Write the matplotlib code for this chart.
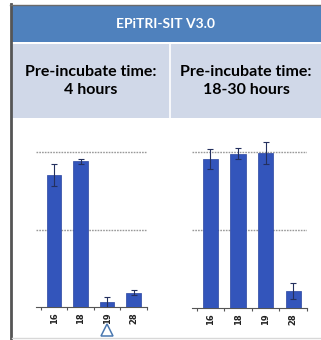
import numpy as np
import matplotlib
matplotlib.use('Agg')
import matplotlib.pyplot as plt
from matplotlib.patches import Rectangle
import matplotlib.transforms as mtransforms

## Data
title = 'EPiTRI-SIT V3.0'
col_titles = ['Pre-incubate time:\n4 hours', 'Pre-incubate time:\n18-30 hours']
labels = ['16', '18', '19', '28']
left_vals = [85, 94, 3, 9.3]
left_err = [7, 1.5, 3.6, 1.8]
right_vals = [95.5, 99, 99.5, 11]
right_err = [6.5, 3.5, 7, 5]
flagged = '19'   # marked with the triangle in the 4 hour panel

W, H = 321, 340
fig = plt.figure(figsize=(W/100, H/100), dpi=100)
plt.rcParams['font.family'] = ['Lato', 'DejaVu Sans']

# background layer in pixel coordinates (y down)
bg = fig.add_axes([0, 0, 1, 1])
bg.set_xlim(0, W)
bg.set_ylim(H, 0)
bg.axis('off')

hdr_blue = '#4f81bd'
light = '#d0d8e8'
bg.add_patch(Rectangle((12, 5), W-12, 37, color=hdr_blue, lw=0))
bg.add_patch(Rectangle((12, 44), W-12, 74, color=light, lw=0))
bg.plot([170, 170], [44, 118], color='white', lw=1.2)
bg.plot([10.5, 10.5], [4, H], color='#555555', lw=2)
bg.plot([10, W], [4.5, 4.5], color='#6a6a6a', lw=1)
bg.plot([12, W], [338, 338], color='#d8d8d8', lw=1)

bg.text(166, 24, title, color='white', fontsize=10, fontweight='bold',
        ha='center', va='center')
bg.text(91, 81, col_titles[0], color='black', fontsize=11.5, fontweight='bold',
        ha='center', va='center', linespacing=1.3)
bg.text(246, 81, col_titles[1], color='black', fontsize=11.5, fontweight='bold',
        ha='center', va='center', linespacing=1.3)


def panel(x0, x1, ybase, vals, errs, xlim, ppu):
    # ppu = pixels per 100 %
    ytop = ybase - ppu*1.1
    ax = fig.add_axes([x0/W, 1 - ybase/H, (x1-x0)/W, (ybase-ytop)/H])
    x = np.arange(len(vals))
    ax.bar(x, vals, width=0.55, color='#3355bb', edgecolor='#2a45a0', lw=0.5, zorder=3)
    ax.errorbar(x, vals, yerr=errs, fmt='none', ecolor='#24305e', elinewidth=0.8,
                capsize=2, capthick=0.8, zorder=4)
    for lev in [50, 100]:
        ax.axhline(lev, color='#999999', lw=1, ls=(0, (1.2, 0.8)), zorder=1)
    ax.set_xlim(*xlim)
    ax.set_ylim(0, 110)
    for s in ['left', 'right', 'top']:
        ax.spines[s].set_visible(False)
    ax.spines['bottom'].set_color('#555555')
    ax.spines['bottom'].set_linewidth(0.8)
    ax.set_yticks([])
    ax.set_xticks(x)
    ax.set_xticklabels(labels, rotation=90, fontsize=6, fontweight='bold',
                       family='DejaVu Sans', color='#222222')
    ax.tick_params(axis='x', length=0, pad=4)
    ax.set_xticks(np.arange(-0.5, len(vals)), minor=True)
    ax.tick_params(axis='x', which='minor', length=2.5, color='#555555', width=0.8)
    ax.patch.set_alpha(0)
    return ax


axl = panel(36, 147, 307, left_vals, left_err, (-0.68, 3.4), 155)
axr = panel(192, 307, 308, right_vals, right_err, (-0.67, 3.47), 156)

# triangle marker under the flagged sample
trans = mtransforms.blended_transform_factory(axl.transData, axl.transAxes)
axl.plot([labels.index(flagged)], [-0.135], marker='^', markersize=8,
         markerfacecolor='white', markeredgecolor='#4a78b0', markeredgewidth=1.1,
         transform=trans, clip_on=False)

fig.savefig('out.png', dpi=100)
